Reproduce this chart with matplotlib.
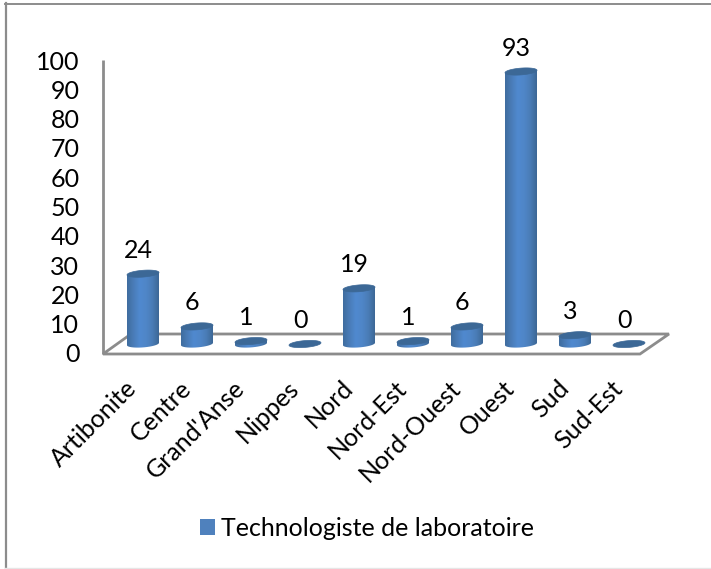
import numpy as np
import matplotlib
matplotlib.use("Agg")
import matplotlib.pyplot as plt
from matplotlib.patches import PathPatch, Rectangle
from matplotlib.path import Path
from matplotlib.lines import Line2D
from matplotlib.transforms import ScaledTranslation
from matplotlib.colors import LinearSegmentedColormap

categories = ["Artibonite", "Centre", "Grand'Anse", "Nippes", "Nord",
              "Nord-Est", "Nord-Ouest", "Ouest", "Sud", "Sud-Est"]
values = [24, 6, 1, 0, 19, 1, 6, 93, 3, 0]
series_name = "Technologiste de laboratoire"
y_ticks = list(range(0, 101, 10))

W, H = 711, 569
plt.rcParams['font.family'] = ['Lato', 'DejaVu Sans']
FS = 18
fig = plt.figure(figsize=(W / 100, H / 100), dpi=100)

L, R, T, B = 103, 670, 60, 353
ax = fig.add_axes([L / W, 1 - B / H, (R - L) / W, (B - T) / H])
SP, X0 = 54.0, 143.0
ax.set_xlim((L - X0) / SP, (R - X0) / SP)
ax.set_ylim(0, 100)
ax.patch.set_alpha(0)
for s in ax.spines.values():
    s.set_visible(False)

GRAY = '#8c8c8c'
ax.set_yticks(y_ticks)
ax.tick_params(axis='y', length=0, labelsize=FS, pad=17, labelcolor='black')
ax.set_xticks(range(len(categories)))
ax.set_xticklabels(categories, rotation=45, ha='right', rotation_mode='anchor', fontsize=FS)
ax.tick_params(axis='x', length=0, pad=16)
shift = ScaledTranslation(-18 / 100, -1 / 100, fig.dpi_scale_trans)
for lab in ax.get_xticklabels():
    lab.set_transform(lab.get_transform() + shift)

# floor and wall, in axes fraction
fx = lambda p: (p - L) / (R - L)
fy = lambda p: (B - p) / (B - T)
ax.plot([fx(103), fx(103)], [fy(60), fy(354)], color=GRAY, lw=2, transform=ax.transAxes, clip_on=False, solid_capstyle='butt')
ax.plot([fx(131), fx(669), fx(640), fx(103), fx(131)],
        [fy(334), fy(334), fy(354), fy(354), fy(334)],
        color=GRAY, lw=2, transform=ax.transAxes, clip_on=False, solid_joinstyle='miter')

cmap = LinearSegmentedColormap.from_list('cyl', ['#3f6d9f', '#4a7cb8', '#5089cf', '#4f86c8', '#4a7cb6', '#3d6896'])
TOP = '#3c6896'
py = 100.0 / (B - T)  # data units per pixel
hw = 16 / SP
ry = 3.4 * py
shear = 1.2 * py / hw
lift = ScaledTranslation(0, 9 / 100, fig.dpi_scale_trans)
tr = ax.transData + lift
t = np.linspace(0, 2 * np.pi, 61)

for i, v in enumerate(values):
    ex = i + hw * np.cos(t)
    eo = ry * np.sin(t) + shear * (ex - i)
    if v > 0:
        tb = np.linspace(0, np.pi, 31)
        xb = i + hw * np.cos(tb)
        yb = -ry * np.sin(tb) + shear * (xb - i)
        xt = i + hw * np.cos(tb[::-1])
        yt = v + shear * (xt - i)
        verts = np.column_stack([np.r_[xb, xt], np.r_[yb, yt]])
        body = PathPatch(Path(np.vstack([verts, verts[0]]), closed=True), transform=tr, fc='none', ec='none')
        ax.add_patch(body)
        im = ax.imshow(np.linspace(0, 1, 64)[None, :], cmap=cmap, aspect='auto', interpolation='bilinear',
                       extent=(i - hw, i + hw, -ry * 2, v + ry * 2), transform=tr, zorder=3)
        im.set_clip_path(body)
    ax.fill(ex, v + eo, color=TOP, transform=tr, zorder=4, lw=0.5, clip_on=False)
    ax.annotate(str(v), xy=(i, v), xycoords=tr, xytext=(-5 / 100 * 72, 12 / 100 * 72),
                textcoords='offset points', ha='center', va='bottom', fontsize=FS, annotation_clip=False)

ax.set_xlim((L - X0) / SP, (R - X0) / SP)
ax.set_ylim(0, 100)

# legend
leg = ax.legend([Rectangle((0, 0), 1, 1, fc='#4f81bd')], [series_name], loc='center', frameon=False,
                bbox_to_anchor=(0.5 * (201 + 533) / W, 1 - 528 / H), bbox_transform=fig.transFigure,
                fontsize=FS, handlelength=0.6, handleheight=0.6, handletextpad=0.25)

# outer frame
fig.add_artist(Line2D([5.5 / W, 5.5 / W], [0, 1 - 3 / H], color=GRAY, lw=1.6))
fig.add_artist(Line2D([4.5 / W, 1], [1 - 3.5 / H, 1 - 3.5 / H], color=GRAY, lw=1.4))
fig.add_artist(Line2D([5 / W, 1], [1 - 567.5 / H, 1 - 567.5 / H], color='#e6e6e6', lw=1))

fig.savefig('out.png', dpi=100)
